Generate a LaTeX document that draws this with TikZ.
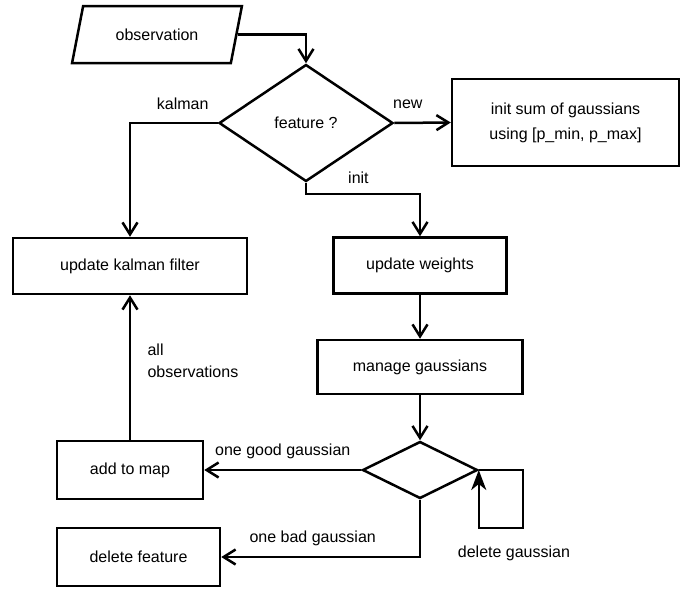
\documentclass[tikz,border=0pt]{standalone}
\usepackage{fontspec}
\setmainfont{Liberation Sans}
\usetikzlibrary{arrows.meta, positioning, shapes.geometric}

\begin{document}
\begin{tikzpicture}[x=1pt, y=-1pt, line width=2.5pt,
    every node/.style={font=\fontsize{16}{22}\selectfont},
    box/.style={draw, rectangle, minimum height=56pt, inner sep=2pt},
    decision/.style={draw, diamond, inner sep=0pt},
    io/.style={draw, trapezium, trapezium left angle=70, trapezium right angle=110,
      trapezium stretches=true, minimum width=170pt, minimum height=57pt},
    lbl/.style={text height=11pt, text depth=3pt, inner sep=2pt, outer sep=0pt},
    arr/.style={-{Straight Barb[length=12pt, width=15pt]}}]
  \useasboundingbox (0,0) rectangle (692,589);
  % blocks
  \node[io] (obs) at (157,34.5) {observation};
  \node[decision, minimum width=174pt, minimum height=117pt] (feat) at (306,123) {feature ?};
  \node[box, minimum width=227pt, minimum height=87pt, align=center,
    font=\fontsize{16}{25}\selectfont] (sum) at (565.5,122.5) {init sum of gaussians\\using [p\_min, p\_max]};
  \node[box, minimum width=234pt] (kal) at (130,266) {update kalman filter};
  \node[box, minimum width=173pt] (wgt) at (420,265.5) {update weights};
  \node[box, minimum width=205pt, minimum height=54pt] (mng) at (420,367) {manage gaussians};
  \node[decision, minimum width=115pt, minimum height=57pt] (keep) at (420,470) {};
  \node[box, minimum width=146pt, minimum height=58pt] (map) at (130,470) {add to map};
  \node[box, minimum width=163pt, minimum height=58pt] (del) at (138.5,557) {delete feature};
  % flow
  \draw[arr] (obs.east) -| (feat.north);
  \draw[arr] (feat.west) -| node[lbl, pos=0.2, above=9pt] {kalman} (kal.north);
  \draw[arr] (feat.east) -- node[lbl, pos=0.24, above=9pt] {new} (sum.west);
  \draw[arr] (feat.south) -- ++(0,11) -| node[lbl, pos=0.23, above=5pt] {init} (wgt.north);
  \draw[arr] (wgt) -- (mng);
  \draw[arr] (mng) -- (keep);
  \draw[arr] (keep.west) -- node[lbl, above=10pt] {one good gaussian} (map.east);
  \draw[arr] (keep.south) |- node[lbl, pos=0.77, above=9.5pt] {one bad gaussian} (del.east);
  \draw[arr] (map) -- node[midway, right=13pt, yshift=7pt, align=left] {all\\observations} (kal);
  \draw[-{Stealth[length=20pt, width=15pt, inset=6pt]}] (keep.east) -- ++(44,0) -- ++(0,58)
    -| node[lbl, pos=0.1, below=16pt] {delete gaussian} (keep.east);
\end{tikzpicture}
\end{document}
